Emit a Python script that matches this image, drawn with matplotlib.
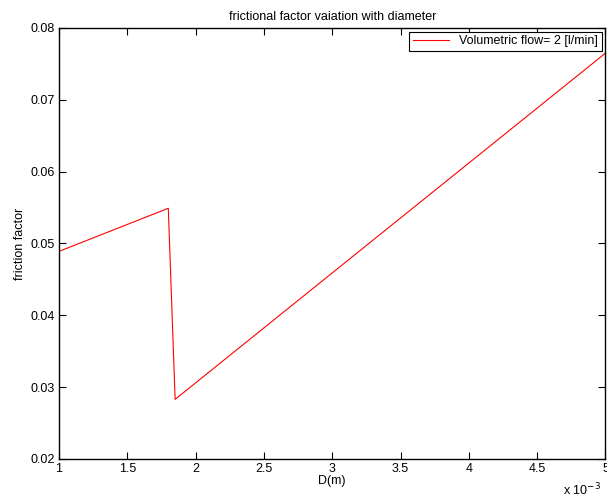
import matplotlib
matplotlib.use("Agg")
import matplotlib.pyplot as plt
from matplotlib.ticker import FuncFormatter, MultipleLocator

# diameter in m, friction factor
diameter = [1.0e-3, 1.4e-3, 1.8e-3, 1.85e-3, 3.0e-3, 4.0e-3, 5.0e-3]
friction = [0.0489, 0.0519, 0.0549, 0.0283, 0.0459, 0.0612, 0.0765]

plt.rcParams["font.family"] = ["Liberation Sans", "DejaVu Sans"]
plt.rcParams["font.size"] = 9

fig = plt.figure(figsize=(6.07, 4.97), dpi=100)
ax = fig.add_axes([0.0972, 0.0765, 0.9003, 0.8672])

ax.plot(diameter, friction, c="r", lw=0.8, label="Volumetric flow= 2 [l/min]")

ax.set_xlim(1e-3, 5e-3)
ax.set_ylim(0.02, 0.08)
ax.xaxis.set_major_locator(MultipleLocator(0.5e-3))
ax.yaxis.set_major_locator(MultipleLocator(0.01))
ax.xaxis.set_major_formatter(FuncFormatter(lambda v, p: "%g" % round(v * 1e3, 3)))
ax.yaxis.set_major_formatter(FuncFormatter(lambda v, p: "%.2f" % v))
ax.tick_params(direction="in", length=5, width=0.8, top=True, right=True, labelsize=9, pad=3)
for s in ax.spines.values():
    s.set_linewidth(1.0)

ax.set_title("frictional factor vaiation with diameter", fontsize=9, pad=6)
ax.set_xlabel("D(m)", fontsize=9, labelpad=0)
ax.set_ylabel("friction factor", fontsize=9, labelpad=3)
ax.text(0.992, -0.052, "x 10$^{-3}$", transform=ax.transAxes, ha="right", va="top", fontsize=9)

leg = ax.legend(loc="upper right", fontsize=9, fancybox=False, framealpha=1,
                edgecolor="k", borderaxespad=0.3, handlelength=2.9, borderpad=0.3)
leg.get_frame().set_linewidth(0.8)

fig.savefig("out.png", dpi=100)
